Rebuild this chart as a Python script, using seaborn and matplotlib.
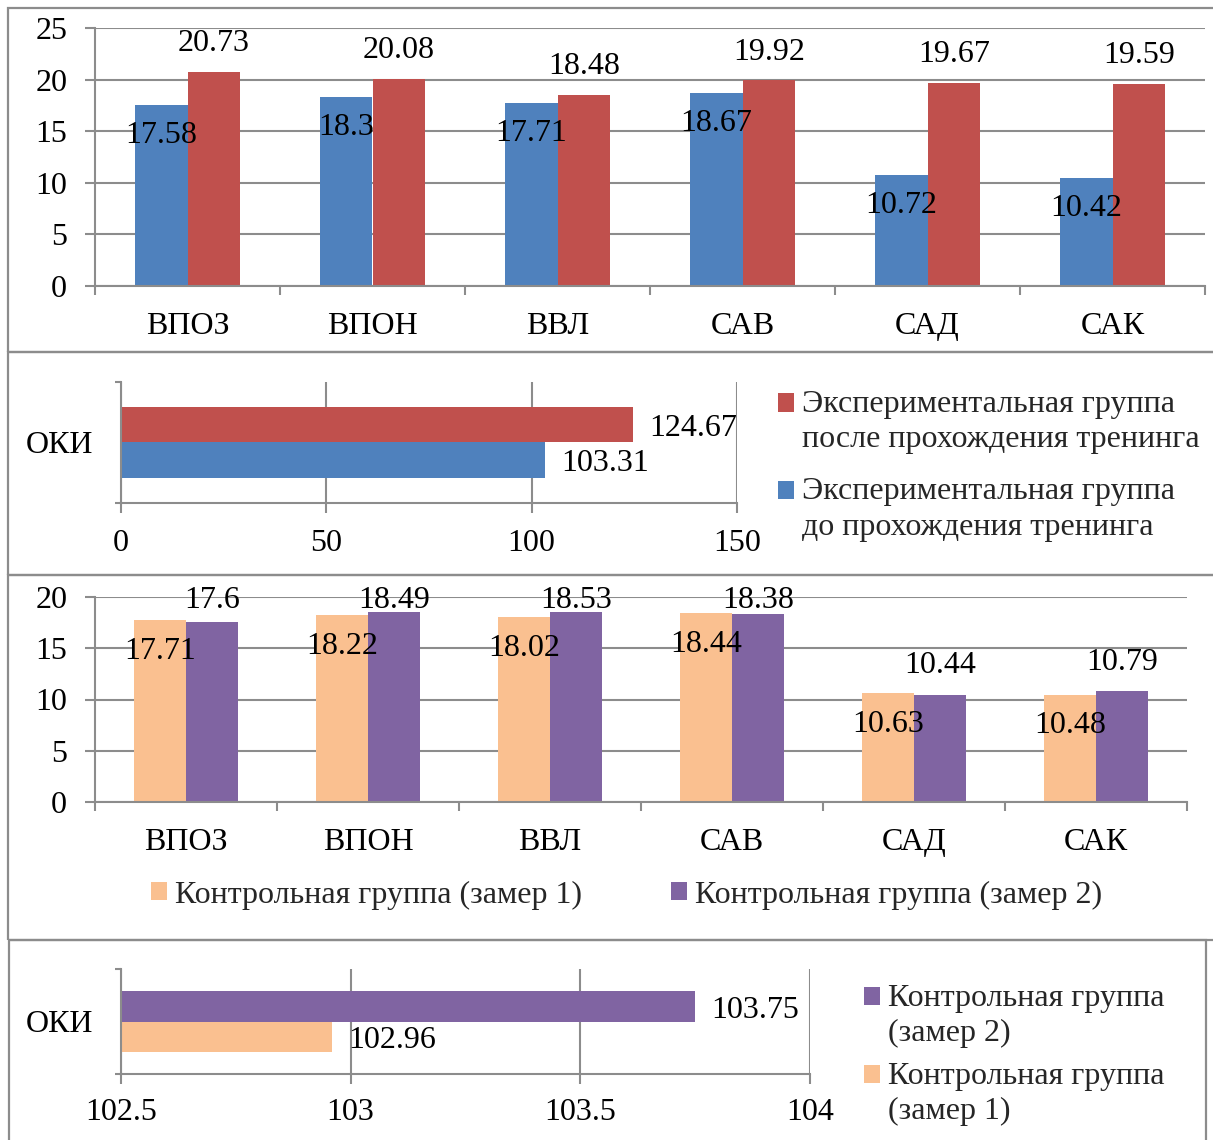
import matplotlib
matplotlib.use('Agg')
import matplotlib.pyplot as plt
import matplotlib.patches as mpatches
from matplotlib.legend_handler import HandlerPatch
import seaborn as sns
import pandas as pd

# ---------------- data ----------------
categories = ['ВПОЗ', 'ВПОН', 'ВВЛ', 'САВ', 'САД', 'САК']
exp_before = [17.58, 18.3, 17.71, 18.67, 10.72, 10.42]
exp_after = [20.73, 20.08, 18.48, 19.92, 19.67, 19.59]
ctrl_1 = [17.71, 18.22, 18.02, 18.44, 10.63, 10.48]
ctrl_2 = [17.6, 18.49, 18.53, 18.38, 10.44, 10.79]

oki_label = 'ОКИ'
oki_exp_before = 103.31
oki_exp_after = 124.67
oki_ctrl_1 = 102.96
oki_ctrl_2 = 103.75

grp_before = 'Экспериментальная группа до прохождения тренинга'
grp_after = 'Экспериментальная группа после прохождения тренинга'
grp_c1 = 'Контрольная группа (замер 1)'
grp_c2 = 'Контрольная группа (замер 2)'

exp_yticks = [0, 5, 10, 15, 20, 25]
ctrl_yticks = [0, 5, 10, 15, 20]
oki_exp_ticks = [0, 50, 100, 150]
oki_ctrl_ticks = [102.5, 103, 103.5, 104]

BLUE = '#4F81BD'
RED = '#C0504D'
ORANGE = '#FAC090'
PURPLE = '#8064A2'
GRID = '#8C8C8C'
FS = 23

# ---------------- setup ----------------
sns.set_theme(style='white')
plt.rcParams['font.family'] = ['Liberation Serif', 'DejaVu Serif']

W, H = 1213, 1140
fig = plt.figure(figsize=(W / 100, H / 100), dpi=100)


def add_ax(l, t, r, b):
    return fig.add_axes([l / W, 1 - b / H, (r - l) / W, (b - t) / H])


def frame(l, t, r, b):
    fig.add_artist(mpatches.Rectangle((l / W, 1 - b / H), (r - l) / W, (b - t) / H,
                                      transform=fig.transFigure, fill=False,
                                      ec=GRID, lw=1.6, zorder=0))


def wrap2(s):
    w = s.split(' ')
    return ' '.join(w[:2]) + '\n' + ' '.join(w[2:])


class TopPatch(HandlerPatch):
    def __init__(self, shift):
        super().__init__()
        self.shift = shift

    def _create_patch(self, legend, orig_handle, xdescent, ydescent, width, height, fontsize):
        return mpatches.Rectangle((-xdescent, -ydescent + self.shift), width, height)


def style_common(ax):
    sns.despine(ax=ax, top=True, right=True)
    for s in ('left', 'bottom'):
        ax.spines[s].set_color(GRID)
        ax.spines[s].set_linewidth(1.5)
    ax.set_axisbelow(True)
    ax.set_xlabel('')
    ax.set_ylabel('')


def vbar_panel(ax, vals_a, vals_b, name_a, name_b, col_a, col_b, yticks, below, above, clamp, width):
    df = pd.DataFrame({
        'cat': categories * 2,
        'val': list(vals_a) + list(vals_b),
        'grp': [name_a] * len(categories) + [name_b] * len(categories),
    })
    sns.barplot(data=df, x='cat', y='val', hue='grp', hue_order=[name_a, name_b],
                palette=[col_a, col_b], width=width, gap=0, saturation=1,
                errorbar=None, linewidth=0, ax=ax, legend=True)
    style_common(ax)
    ax.set_xlim(-0.5, len(categories) - 0.5)
    ax.set_ylim(yticks[0], yticks[-1])
    ax.set_yticks(yticks)
    ax.yaxis.grid(True, color=GRID, lw=1.5)
    ax.xaxis.grid(False)
    ax.set_xticks([i - 0.5 for i in range(len(categories) + 1)], minor=True)
    ax.tick_params(axis='x', which='major', length=0, pad=19, labelsize=FS, labelcolor='black')
    ax.tick_params(axis='x', which='minor', length=6.5, width=1.5, color=GRID, direction='out', bottom=True)
    ax.tick_params(axis='y', which='major', length=7, width=1.5, color=GRID, direction='out',
                   pad=13, labelsize=FS, labelcolor='black', left=True)
    c_a, c_b = ax.containers[0], ax.containers[1]
    for bar, v in zip(c_a, vals_a):
        ax.text(bar.get_x() + bar.get_width() / 2, v - below, f'{v:g}',
                ha='center', va='center', fontsize=FS, color='black')
    for bar, v in zip(c_b, vals_b):
        ax.text(bar.get_x() + bar.get_width() / 2, min(v + above, clamp), f'{v:g}',
                ha='center', va='center', fontsize=FS, color='black')


def hbar_panel(ax, v_top, v_bot, name_top, name_bot, col_top, col_bot, xticks, xpad):
    df = pd.DataFrame({'cat': [oki_label] * 2, 'val': [v_top, v_bot], 'grp': [name_top, name_bot]})
    sns.barplot(data=df, x='val', y='cat', hue='grp', hue_order=[name_top, name_bot],
                palette=[col_top, col_bot], orient='h', width=0.58, gap=0, saturation=1,
                errorbar=None, linewidth=0, ax=ax, legend=True)
    style_common(ax)
    ax.set_xlim(xticks[0], xticks[-1])
    ax.set_xticks(xticks)
    ax.set_xticklabels([f'{t:g}' for t in xticks])
    ax.set_ylim(0.5, -0.5)
    ax.xaxis.grid(True, color=GRID, lw=1.5)
    ax.yaxis.grid(False)
    ax.set_yticks([-0.5, 0.5], minor=True)
    ax.tick_params(axis='y', which='major', length=0, pad=20, labelsize=FS, labelcolor='black')
    ax.tick_params(axis='y', which='minor', length=4.5, width=1.5, color=GRID, direction='out', left=True)
    ax.tick_params(axis='x', which='major', length=7, width=1.5, color=GRID, direction='out',
                   pad=xpad, labelsize=FS, labelcolor='black', bottom=True)
    for cont, v in zip(ax.containers, [v_top, v_bot]):
        bar = cont[0]
        ax.annotate(f'{v:g}', (v, bar.get_y() + bar.get_height() / 2),
                    xytext=(11.5, -2.8), textcoords='offset points',
                    ha='left', va='center', fontsize=FS, color='black', annotation_clip=False)


def side_legend(ax, cx, cy, spacing):
    leg = ax.get_legend()
    handles = leg.legend_handles
    labels = [wrap2(t.get_text()) for t in leg.get_texts()]
    leg.remove()
    new = ax.legend(handles, labels, loc='center left', bbox_to_anchor=(cx / W, 1 - cy / H),
                    bbox_transform=fig.transFigure, frameon=False, borderpad=0, borderaxespad=0,
                    handlelength=0.5, handleheight=0.5, handletextpad=0.25, labelspacing=spacing,
                    fontsize=FS, handler_map={mpatches.Patch: TopPatch(14)})
    for t in new.get_texts():
        t.set_linespacing(1.3)


# ---------------- frames ----------------
frame(8, 8, 1240, 352)
frame(8, 352, 1240, 575)
frame(8, 575, 1240, 940)
frame(9, 940, 1206, 1160)

# ---------------- panel 1 ----------------
ax1 = add_ax(95, 28, 1205, 286)
vbar_panel(ax1, exp_before, exp_after, grp_before, grp_after, BLUE, RED,
           exp_yticks, 2.95, 2.75, 24.5, 0.57)
ax1.get_legend().remove()

# ---------------- panel 2 ----------------
ax2 = add_ax(121, 382, 737, 503)
hbar_panel(ax2, oki_exp_after, oki_exp_before, grp_after, grp_before, RED, BLUE, oki_exp_ticks, 12)
side_legend(ax2, 778, 466, 0.72)

# ---------------- panel 3 ----------------
ax3 = add_ax(95, 597, 1187, 802)
vbar_panel(ax3, ctrl_1, ctrl_2, grp_c1, grp_c2, ORANGE, PURPLE,
           ctrl_yticks, 3.05, 2.85, 19.7, 0.57)
leg3 = ax3.get_legend()
h3 = leg3.legend_handles
l3 = [t.get_text() for t in leg3.get_texts()]
leg3.remove()
ax3.legend(h3, l3, loc='center left', bbox_to_anchor=(151 / W, 1 - 895 / H),
           bbox_transform=fig.transFigure, frameon=False, borderpad=0, borderaxespad=0,
           ncol=2, columnspacing=2.8, handlelength=0.5, handleheight=0.5,
           handletextpad=0.25, fontsize=FS)

# ---------------- panel 4 ----------------
ax4 = add_ax(121, 969, 810, 1074)
hbar_panel(ax4, oki_ctrl_2, oki_ctrl_1, grp_c2, grp_c1, PURPLE, ORANGE, oki_ctrl_ticks, 10)
side_legend(ax4, 864, 1055, 0.42)

fig.savefig('out.png', dpi=100)
